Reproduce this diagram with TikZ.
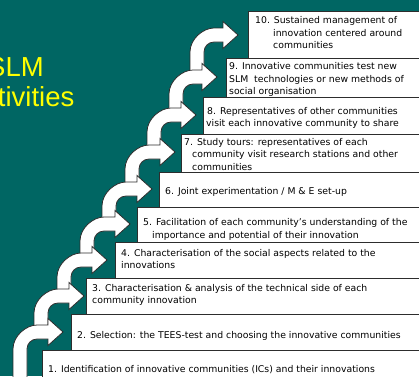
\documentclass[tikz,border=0pt]{standalone}
\usepackage{fontspec}
\setmainfont{DejaVu Sans}
\newfontfamily\titlefont{Liberation Sans}
\definecolor{bgteal}{RGB}{0,102,99}
\definecolor{edgegray}{RGB}{45,45,45}
\definecolor{titleyellow}{RGB}{255,255,0}
\newcommand{\stairarrow}[4]{%
  \pgfmathsetmacro{\sxA}{#1}%
  \pgfmathsetmacro{\sxB}{#1+14}%
  \pgfmathsetmacro{\syT}{#3-7}%
  \pgfmathsetmacro{\syB}{#3+7}%
  \pgfmathsetmacro{\sxH}{#2-15}%
  \draw[arrowshape] (\sxA,#4) -- (\sxA,\syT+24)
    .. controls (\sxA,\syT+10.75) and (\sxA+13.25,\syT) .. (\sxA+24,\syT)
    -- (\sxH,\syT) -- (\sxH,#3-13.5) -- (#2,#3) -- (\sxH,#3+13.5) -- (\sxH,\syB)
    -- (\sxB+10,\syB)
    .. controls (\sxB+4.5,\syB) and (\sxB,\syB+4.5) .. (\sxB,\syB+10)
    -- (\sxB,#4) -- cycle;}
\begin{document}
\begin{tikzpicture}[x=1pt,y=-1pt,
  arrowshape/.style={draw=edgegray,line width=0.8pt,fill=white,line join=miter},
  stepbox/.style={draw=edgegray,line width=0.8pt,fill=white,anchor=north west,inner sep=0pt},
  steptext/.style={anchor=base west,inner sep=0pt,text=black,font=\fontsize{9.3}{11}\selectfont},
  title/.style={anchor=base west,inner sep=0pt,text=titleyellow,font=\titlefont\fontsize{27.5}{31}\selectfont}]
\useasboundingbox (0,0) rectangle (419,376);
\fill[bgteal] (0,0) rectangle (419,376);
\begin{scope}
\clip (0,0) rectangle (419,376);
\node[title] (tslm) at (-13,76.5) {SLM};
\node[title] (tact) at (-16,106.5) {ctivities};
% arrows, top first so lower ones lie over the stems
\stairarrow{190}{238}{35}{77}
\stairarrow{169}{217}{77}{115}
\stairarrow{147}{196}{115}{152}
\stairarrow{125}{175}{152}{189}
\stairarrow{102}{152}{189}{224}
\stairarrow{80}{130}{224}{260}
\stairarrow{57}{107}{260}{296}
\stairarrow{34}{84}{296}{332}
\stairarrow{13}{63}{332}{390}
% boxes
\node[stepbox,minimum width=390pt,minimum height=40pt] (b1) at (42,350) {};
\node[stepbox,minimum width=360pt,minimum height=36pt] (b2) at (71,314) {};
\node[stepbox,minimum width=345pt,minimum height=36pt] (b3) at (86,278) {};
\node[stepbox,minimum width=316pt,minimum height=36pt] (b4) at (115,242) {};
\node[stepbox,minimum width=294pt,minimum height=35pt] (b5) at (137,207) {};
\node[stepbox,minimum width=272pt,minimum height=35pt] (b6) at (159,172) {};
\node[stepbox,minimum width=250pt,minimum height=38pt] (b7) at (181,134) {};
\node[stepbox,minimum width=228pt,minimum height=37pt] (b8) at (203,97) {};
\node[stepbox,minimum width=205pt,minimum height=39pt] (b9) at (226,58) {};
\node[stepbox,minimum width=183pt,minimum height=47pt] (b10) at (248,11) {};
% texts
\node[steptext] (t10a) at (255,23) {10. Sustained management of};
\node[steptext] (t10b) at (273,36) {innovation centered around};
\node[steptext] (t10c) at (273,48.5) {communities};
\node[steptext] (t9a) at (229,69.5) {9. Innovative communities test new};
\node[steptext] (t9b) at (229,82) {SLM\ \ technologies or new methods of};
\node[steptext] (t9c) at (229,94.5) {social organisation};
\node[steptext] (t8a) at (207,114) {8. Representatives of other communities};
\node[steptext] (t8b) at (206,126.5) {visit each innovative community to share};
\node[steptext] (t7a) at (184,145) {7. Study tours: representatives of each};
\node[steptext] (t7b) at (192,157.5) {community visit research stations and other};
\node[steptext] (t7c) at (192,170) {communities};
\node[steptext] (t6a) at (165,194) {6. Joint experimentation / M \& E set-up};
\node[steptext] (t5a) at (143,225) {5. Facilitation of each community's understanding of the};
\node[steptext] (t5b) at (152,238) {importance and potential of their innovation};
\node[steptext] (t4a) at (121,256) {4. Characterisation of the social aspects related to the};
\node[steptext] (t4b) at (121,268) {innovations};
\node[steptext] (t3a) at (92,291) {3. Characterisation \& analysis of the technical side of each};
\node[steptext] (t3b) at (92,303) {community innovation};
\node[steptext] (t2a) at (77,338) {2. Selection: the TEES-test and choosing the innovative communities};
\node[steptext] (t1a) at (48,372) {1. Identification of innovative communities (ICs) and their innovations};
\end{scope}
\end{tikzpicture}
\end{document}
